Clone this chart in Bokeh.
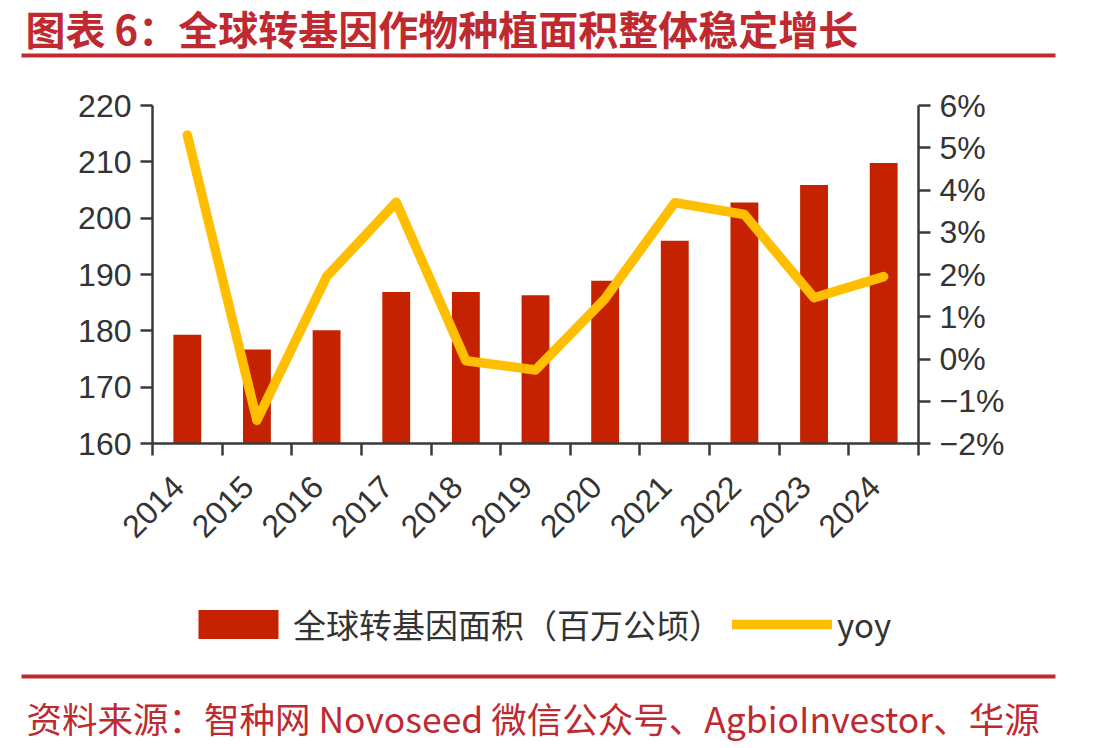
import numpy as np
from bokeh.plotting import figure
from bokeh.layouts import column
from bokeh.models import (Range1d, LinearAxis, FixedTicker, Label, Legend, LegendItem,
                          BoxAnnotation, CustomJSTickFormatter)
from bokeh.embed import file_html
from bokeh.resources import INLINE

# Global GM crop planting area (million ha) and its year-on-year growth (%)
years = ["2014", "2015", "2016", "2017", "2018", "2019", "2020", "2021", "2022", "2023", "2024"]
area = [179.3, 176.7, 180.1, 186.9, 186.9, 186.3, 188.9, 196.0, 202.8, 205.9, 209.8]
yoy = [5.3, -1.45, 1.95, 3.71, -0.04, -0.26, 1.43, 3.70, 3.42, 1.45, 1.95]

left_ticks = [160, 170, 180, 190, 200, 210, 220]
right_ticks = [-2, -1, 0, 1, 2, 3, 4, 5, 6]

title_text = "图表 6：全球转基因作物种植面积整体稳定增长"
source_text = "资料来源：智种网 Novoseed 微信公众号、AgbioInvestor、华源"
legend_labels = ["全球转基因面积（百万公顷）", "yoy"]

RED = "#BE2A2F"
BAR = "#C42200"
YELLOW = "#FFBE00"
AXIS = "#3A3A3A"
TEXT = "#333333"
W = 1113


def blank_panel(height):
    """A figure whose frame fills the whole canvas, used for headings and notes."""
    f = figure(width=W, height=height, output_backend="svg", toolbar_location=None,
               x_range=Range1d(0, W), y_range=Range1d(height, 0),
               x_axis_type=None, y_axis_type=None, frame_align=False,
               min_border=0, min_border_left=0, min_border_right=0,
               min_border_top=0, min_border_bottom=0)
    f.outline_line_color = None
    f.xgrid.visible = False
    f.ygrid.visible = False
    f.background_fill_color = "white"
    f.border_fill_color = "white"
    return f


def rule(f, y0, y1):
    f.add_layout(BoxAnnotation(left=21, right=1055, top=y0, bottom=y1,
                               fill_color=RED, fill_alpha=1, line_color=None))


# ---- heading ----
head = blank_panel(80)
head.add_layout(Label(x=25, y=27, text=title_text, text_font="Noto Sans CJK SC",
                      text_font_style="bold", text_font_size="40px",
                      text_color=RED, text_baseline="middle"))
rule(head, 53, 57)

# ---- chart ----
n = len(years)
centers = [i + 0.5 for i in range(n)]
bounds = list(range(n + 1))
label_pos = [c - 0.13 for c in centers]

p = figure(width=W, height=510, output_backend="svg", toolbar_location=None,
           x_range=Range1d(0, n), y_range=Range1d(160, 220), frame_align=False,
           min_border_left=152, min_border_right=195,
           min_border_top=25, min_border_bottom=147)
p.outline_line_color = None
p.xgrid.visible = False
p.ygrid.visible = False
p.background_fill_color = "white"
p.border_fill_color = "white"
p.extra_y_ranges = {"yoy": Range1d(-2, 6)}

bars = p.vbar(x=centers, top=area, bottom=160, width=0.4,
              fill_color=BAR, line_color=None)
line = p.line(x=centers, y=yoy, y_range_name="yoy", line_color=YELLOW,
              line_width=9.5, line_cap="round", line_join="round")


def style_axis(ax):
    ax.axis_line_color = AXIS
    ax.axis_line_width = 2.5
    ax.major_tick_line_color = AXIS
    ax.major_tick_line_width = 2.5
    ax.major_tick_in = 0
    ax.major_tick_out = 12
    ax.minor_tick_line_color = None
    ax.major_label_text_font = "Liberation Sans"
    ax.major_label_text_font_size = "32px"
    ax.major_label_text_color = TEXT
    ax.major_label_standoff = 9


ly = p.yaxis[0]
style_axis(ly)
ly.ticker = FixedTicker(ticks=left_ticks)

ry = LinearAxis(y_range_name="yoy",
                ticker=FixedTicker(ticks=right_ticks),
                formatter=CustomJSTickFormatter(
                    code="return (tick < 0 ? '\u2212' + Math.abs(tick) : String(tick)) + '%';"))
style_axis(ry)
p.add_layout(ry, "right")

# bottom axis: tick marks on category boundaries, year labels near the centers
bx = p.xaxis[0]
style_axis(bx)
bx.ticker = FixedTicker(ticks=label_pos, minor_ticks=bounds)
bx.formatter = CustomJSTickFormatter(args=dict(labels=years),
                                     code="return labels[Math.round(tick)] || '';")
bx.major_tick_line_color = None
bx.minor_tick_line_color = AXIS
bx.minor_tick_line_width = 2.5
bx.minor_tick_in = 0
bx.minor_tick_out = 12
bx.major_label_orientation = 0.785398
bx.major_label_standoff = 26

# ---- legend and source note ----
foot = blank_panel(158)
# legend keys: renderers styled like the chart series, holding no visible point
key_bar = foot.vbar(x=np.array([np.nan]), top=np.array([np.nan]), width=1,
                    fill_color=BAR, line_color=None)
key_line = foot.line(x=np.array([np.nan]), y=np.array([np.nan]), line_color=YELLOW,
                     line_width=9.5, line_cap="round")
legend = Legend(items=[LegendItem(label=legend_labels[0], renderers=[key_bar]),
                       LegendItem(label=legend_labels[1], renderers=[key_line])],
                orientation="horizontal", location=(188, 100),
                border_line_color=None, background_fill_alpha=0,
                padding=0, margin=0, spacing=10,
                glyph_width=100, glyph_height=36, label_standoff=5, label_height=36,
                label_text_font="Noto Sans CJK SC", label_text_font_size="33px",
                label_text_color=TEXT)
foot.add_layout(legend, "center")
rule(foot, 84, 88)
foot.add_layout(Label(x=26, y=127, text=source_text, text_font="Noto Sans CJK SC",
                      text_font_size="35.5px", text_color=RED, text_baseline="middle"))

layout = column(head, p, foot, spacing=0)
open("out.html", "w").write(file_html(layout, INLINE))
